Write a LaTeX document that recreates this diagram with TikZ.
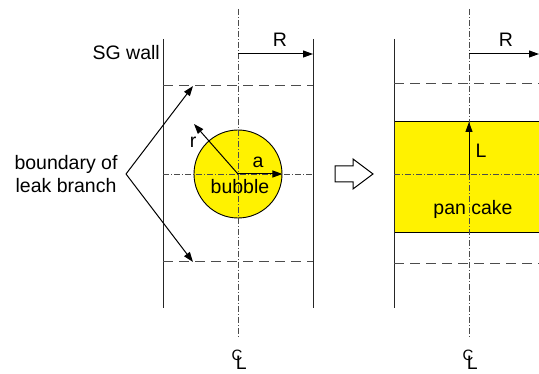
\documentclass[tikz,border=0pt]{standalone}
\usepackage{fontspec}
\setmainfont{Liberation Sans}
\usetikzlibrary{arrows.meta}
\newcommand{\clsym}{{\fontsize{15}{17}\selectfont C}\kern-6.4pt\raisebox{-9pt}{\fontsize{19.5}{23}\selectfont L}}
\begin{document}
\begin{tikzpicture}[x=1pt,y=-1pt,
  wall/.style={line width=1pt,draw=black!85},
  bnd/.style={line width=1pt,draw=black!70,dash pattern=on 10pt off 6pt},
  cline/.style={line width=0.6pt,draw=black!70,dash pattern=on 6pt off 2pt on 1pt off 2pt},
  arr/.style={line width=1pt,-{Triangle[length=10pt,width=7pt]}},
  lbl/.style={font=\fontsize{19.5}{23}\selectfont,inner sep=0pt},
  cl/.style={inner sep=0pt,anchor=base west},
]
\useasboundingbox (0,0) rectangle (539,374);
\clip (0,0) rectangle (539,374);
% ---------- left panel ----------
\coordinate (LWt) at (163,39); \coordinate (LWb) at (163,308);
\coordinate (RWt) at (313,39); \coordinate (RWb) at (313,308);
\coordinate (Ct) at (238,9);   \coordinate (Cb) at (238,338);
\coordinate (c) at (238,174);
\coordinate (Hl) at (163,174); \coordinate (Hr) at (313,174);
\coordinate (Dtl) at (163,86); \coordinate (Dtr) at (313,86);
\coordinate (Dbl) at (163,262); \coordinate (Dbr) at (313,262);
\node[circle,draw,line width=0.9pt,fill=yellow,minimum size=88pt,inner sep=0pt] (bub) at (c) {};
\draw[wall] (LWt) -- (LWb);
\draw[wall] (RWt) -- (RWb);
\draw[bnd] (Dtl) -- (Dtr);
\draw[bnd] (Dbl) -- (Dbr);
\draw[cline] (Ct) -- (Cb);
\draw[cline] (Hl) -- (Hr);
\coordinate (Ra) at (238,54); \coordinate (Rb) at (313,54);
\draw[arr] (Ra) -- (Rb);
\node[lbl,anchor=base] (Rl) at (280,47) {R};
\node[lbl,anchor=base east] (sg) at (160,60) {SG wall};
\coordinate (rt) at (194,124);
\draw[arr] (c) -- (rt);
\node[lbl,anchor=base] (rl) at (193,148) {r};
\draw[arr] (c) -- (bub.east);
\node[lbl,anchor=base] (al) at (258,168) {a};
\node[lbl,anchor=base] (bl) at (240,194) {bubble};
\node[lbl,align=center] (bd) at (66,174) {boundary of\\leak branch};
\coordinate (v) at (126,174);
\coordinate (p1) at (193,86); \coordinate (p2) at (193,262);
\draw[arr] (v) -- (p1);
\draw[arr] (v) -- (p2);
\node[cl] (CL1) at (231.3,361) {\clsym};
% ---------- transition arrow ----------
\draw[line width=1pt,fill=white] (335,166) -- (353,166) -- (353,159) -- (373,174) -- (353,189) -- (353,182) -- (335,182) -- cycle;
% ---------- right panel ----------
\coordinate (QWt) at (394,39); \coordinate (QWb) at (394,308);
\coordinate (SWt) at (544,39); \coordinate (SWb) at (544,308);
\coordinate (Et) at (469,9);   \coordinate (Eb) at (469,338);
\coordinate (e) at (469,174);
\coordinate (Kl) at (394,174); \coordinate (Kr) at (544,174);
\coordinate (Ftl) at (394,84); \coordinate (Ftr) at (544,84);
\coordinate (Fbl) at (394,264); \coordinate (Fbr) at (544,264);
\coordinate (Pt) at (469,122);
\draw[line width=1pt,fill=yellow] (394,122) rectangle (544,233);
\draw[wall] (QWt) -- (QWb);
\draw[wall] (SWt) -- (SWb);
\draw[bnd] (Ftl) -- (Ftr);
\draw[bnd] (Fbl) -- (Fbr);
\draw[cline] (Et) -- (Eb);
\draw[cline] (Kl) -- (Kr);
\coordinate (Qa) at (469,54); \coordinate (Qb) at (539,54);
\draw[arr] (Qa) -- (Qb);
\node[lbl,anchor=base] (R2) at (506,47) {R};
\draw[arr] (e) -- (Pt);
\node[lbl,anchor=base] (Ll) at (481,158) {L};
\node[lbl,anchor=base] (pc) at (473,215) {pan cake};
\node[cl] (CL2) at (462.3,361) {\clsym};
\end{tikzpicture}
\end{document}
